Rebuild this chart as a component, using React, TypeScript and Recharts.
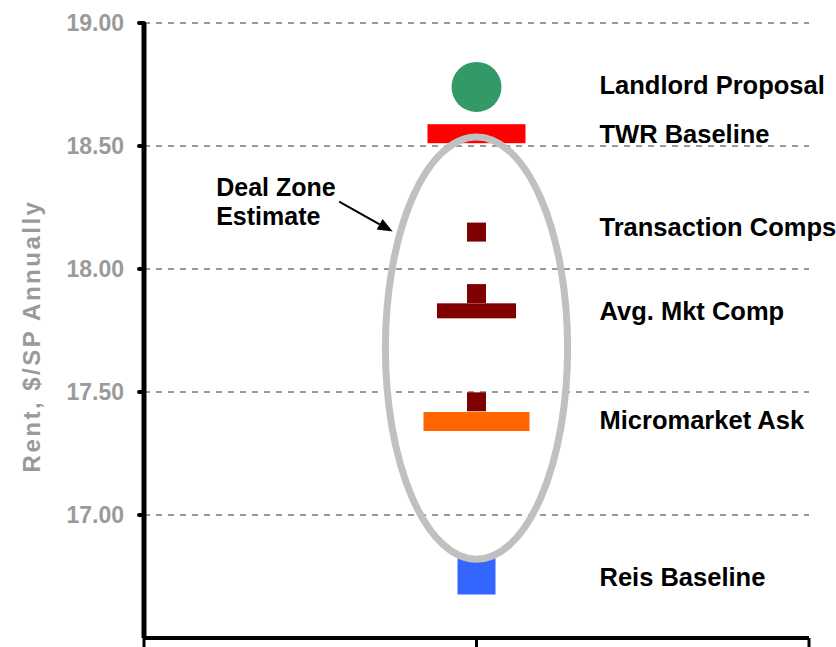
import React from "react";
import {
  ScatterChart, Scatter, XAxis, YAxis, CartesianGrid,
  ReferenceArea, ReferenceLine,
} from "recharts";

// categories (right-hand labels) and the value each label sits at
const categories = [
  "Landlord Proposal",
  "TWR Baseline",
  "Transaction Comps",
  "Avg. Mkt Comp",
  "Micromarket Ask",
  "Reis Baseline",
];
const labelValues = [18.75, 18.55, 18.17, 17.83, 17.385, 16.75];

// marker series, all on the single x position 1
const landlordProposal = [18.74];
const twrBaseline = [18.55];
const transactionComps = [18.15, 17.9, 17.46];
const avgMktComp = [17.83];
const micromarketAsk = [17.38];
const reisBaseline = [16.75];

const yTicks = [16.5, 17, 17.5, 18, 18.5, 19];
const xTicks = [0, 1, 2];

// deal zone ellipse bounds and the arrow pointing at it
const dealZoneX = [0.726, 1.274];
const dealZoneY = [16.82, 18.537];
const arrowFrom = { x: 0.587, y: 18.274 };
const arrowTo = { x: 0.748, y: 18.152 };

const GRAY = "#9a9a9a";
const LABEL_FONT = "'Liberation Sans', Arial, sans-serif";

const toPoints = (vals: number[]) => vals.map((y) => ({ x: 1, y }));

function rectShape(w: number, h: number, fill: string) {
  return (p: any) => (
    <rect x={p.cx - w / 2} y={p.cy - h / 2} width={w} height={h} fill={fill} />
  );
}

function circleShape(r: number, fill: string) {
  return (p: any) => <circle cx={p.cx} cy={p.cy} r={r} fill={fill} />;
}

function labelShape(p: any) {
  return (
    <text
      x={p.cx + 123}
      y={p.cy + 9}
      fontFamily={LABEL_FONT}
      fontWeight="bold"
      fontSize={25.5}
      fill="#000"
    >
      {p.payload.name}
    </text>
  );
}

function ellipseShape(p: any) {
  return (
    <ellipse
      cx={p.x + p.width / 2}
      cy={p.y + p.height / 2}
      rx={p.width / 2}
      ry={p.height / 2}
      fill="none"
      stroke="#c0c0c0"
      strokeWidth={7}
    />
  );
}

function arrowShape(p: any) {
  const { x1, y1, x2, y2 } = p;
  const ang = Math.atan2(y2 - y1, x2 - x1);
  const len = 15;
  const half = 6;
  const bx = x2 - len * Math.cos(ang);
  const by = y2 - len * Math.sin(ang);
  const nx = -Math.sin(ang) * half;
  const ny = Math.cos(ang) * half;
  return (
    <g>
      <line x1={x1} y1={y1} x2={bx} y2={by} stroke="#000" strokeWidth={2} />
      <polygon points={`${x2},${y2} ${bx + nx},${by + ny} ${bx - nx},${by - ny}`} fill="#000" />
      <text x={x1 - 123} fontFamily={LABEL_FONT} fontWeight="bold" fontSize={25} fill="#000">
        <tspan x={x1 - 123} y={y1 - 6}>Deal Zone</tspan>
        <tspan x={x1 - 123} y={y1 + 23}>Estimate</tspan>
      </text>
    </g>
  );
}

export default function App() {
  const labelData = categories.map((name, i) => ({ x: 1, y: labelValues[i], name }));

  return (
    <div style={{ position: "absolute", left: 0, top: 0, background: "#fff" }}>
      <ScatterChart width={836} height={647} margin={{ top: 23, right: 27, bottom: 0, left: 0 }}>
        <CartesianGrid vertical={false} stroke="#333" strokeDasharray="6 6" />
        <XAxis
          type="number"
          dataKey="x"
          domain={[0, 2]}
          ticks={xTicks}
          tick={() => <g />}
          height={9}
          tickSize={10}
          axisLine={{ stroke: "#000", strokeWidth: 4 }}
          tickLine={{ stroke: "#000", strokeWidth: 3 }}
        />
        <YAxis
          type="number"
          dataKey="y"
          domain={[16.5, 19]}
          ticks={yTicks}
          width={144}
          tickSize={5}
          tickMargin={15}
          tickFormatter={(v: number) => v.toFixed(2)}
          tick={{ fill: GRAY, fontFamily: LABEL_FONT, fontWeight: 700, fontSize: 23 }}
          axisLine={{ stroke: "#000", strokeWidth: 5 }}
          tickLine={{ stroke: "#000", strokeWidth: 4, strokeLinecap: "round" }}
          label={{
            content: () => (
              <text
                transform="translate(40,336) rotate(-90)"
                textAnchor="middle"
                fill={GRAY}
                fontFamily={LABEL_FONT}
                fontWeight={700}
                fontSize={24}
                letterSpacing={2.5}
              >
                Rent, $/SP Annually
              </text>
            ),
          }}
        />

        <Scatter data={toPoints(reisBaseline)} shape={rectShape(38, 36, "#3366ff")} isAnimationActive={false} />
        <Scatter data={toPoints(micromarketAsk)} shape={rectShape(106, 19, "#ff6600")} isAnimationActive={false} />
        <Scatter data={toPoints(avgMktComp)} shape={rectShape(79, 15, "#800000")} isAnimationActive={false} />
        <Scatter data={toPoints(transactionComps)} shape={rectShape(19, 19, "#800000")} isAnimationActive={false} />
        <Scatter data={toPoints(twrBaseline)} shape={rectShape(98, 19, "#ff0000")} isAnimationActive={false} />
        <Scatter data={toPoints(landlordProposal)} shape={circleShape(25, "#339966")} isAnimationActive={false} />
        <Scatter data={labelData} shape={labelShape} isAnimationActive={false} />

        <ReferenceArea
          x1={dealZoneX[0]}
          x2={dealZoneX[1]}
          y1={dealZoneY[0]}
          y2={dealZoneY[1]}
          shape={ellipseShape}
          ifOverflow="visible"
          zIndex={1000}
        />
        <ReferenceLine
          segment={[arrowFrom, arrowTo]}
          shape={arrowShape}
          ifOverflow="visible"
          zIndex={1000}
        />
      </ScatterChart>
    </div>
  );
}
